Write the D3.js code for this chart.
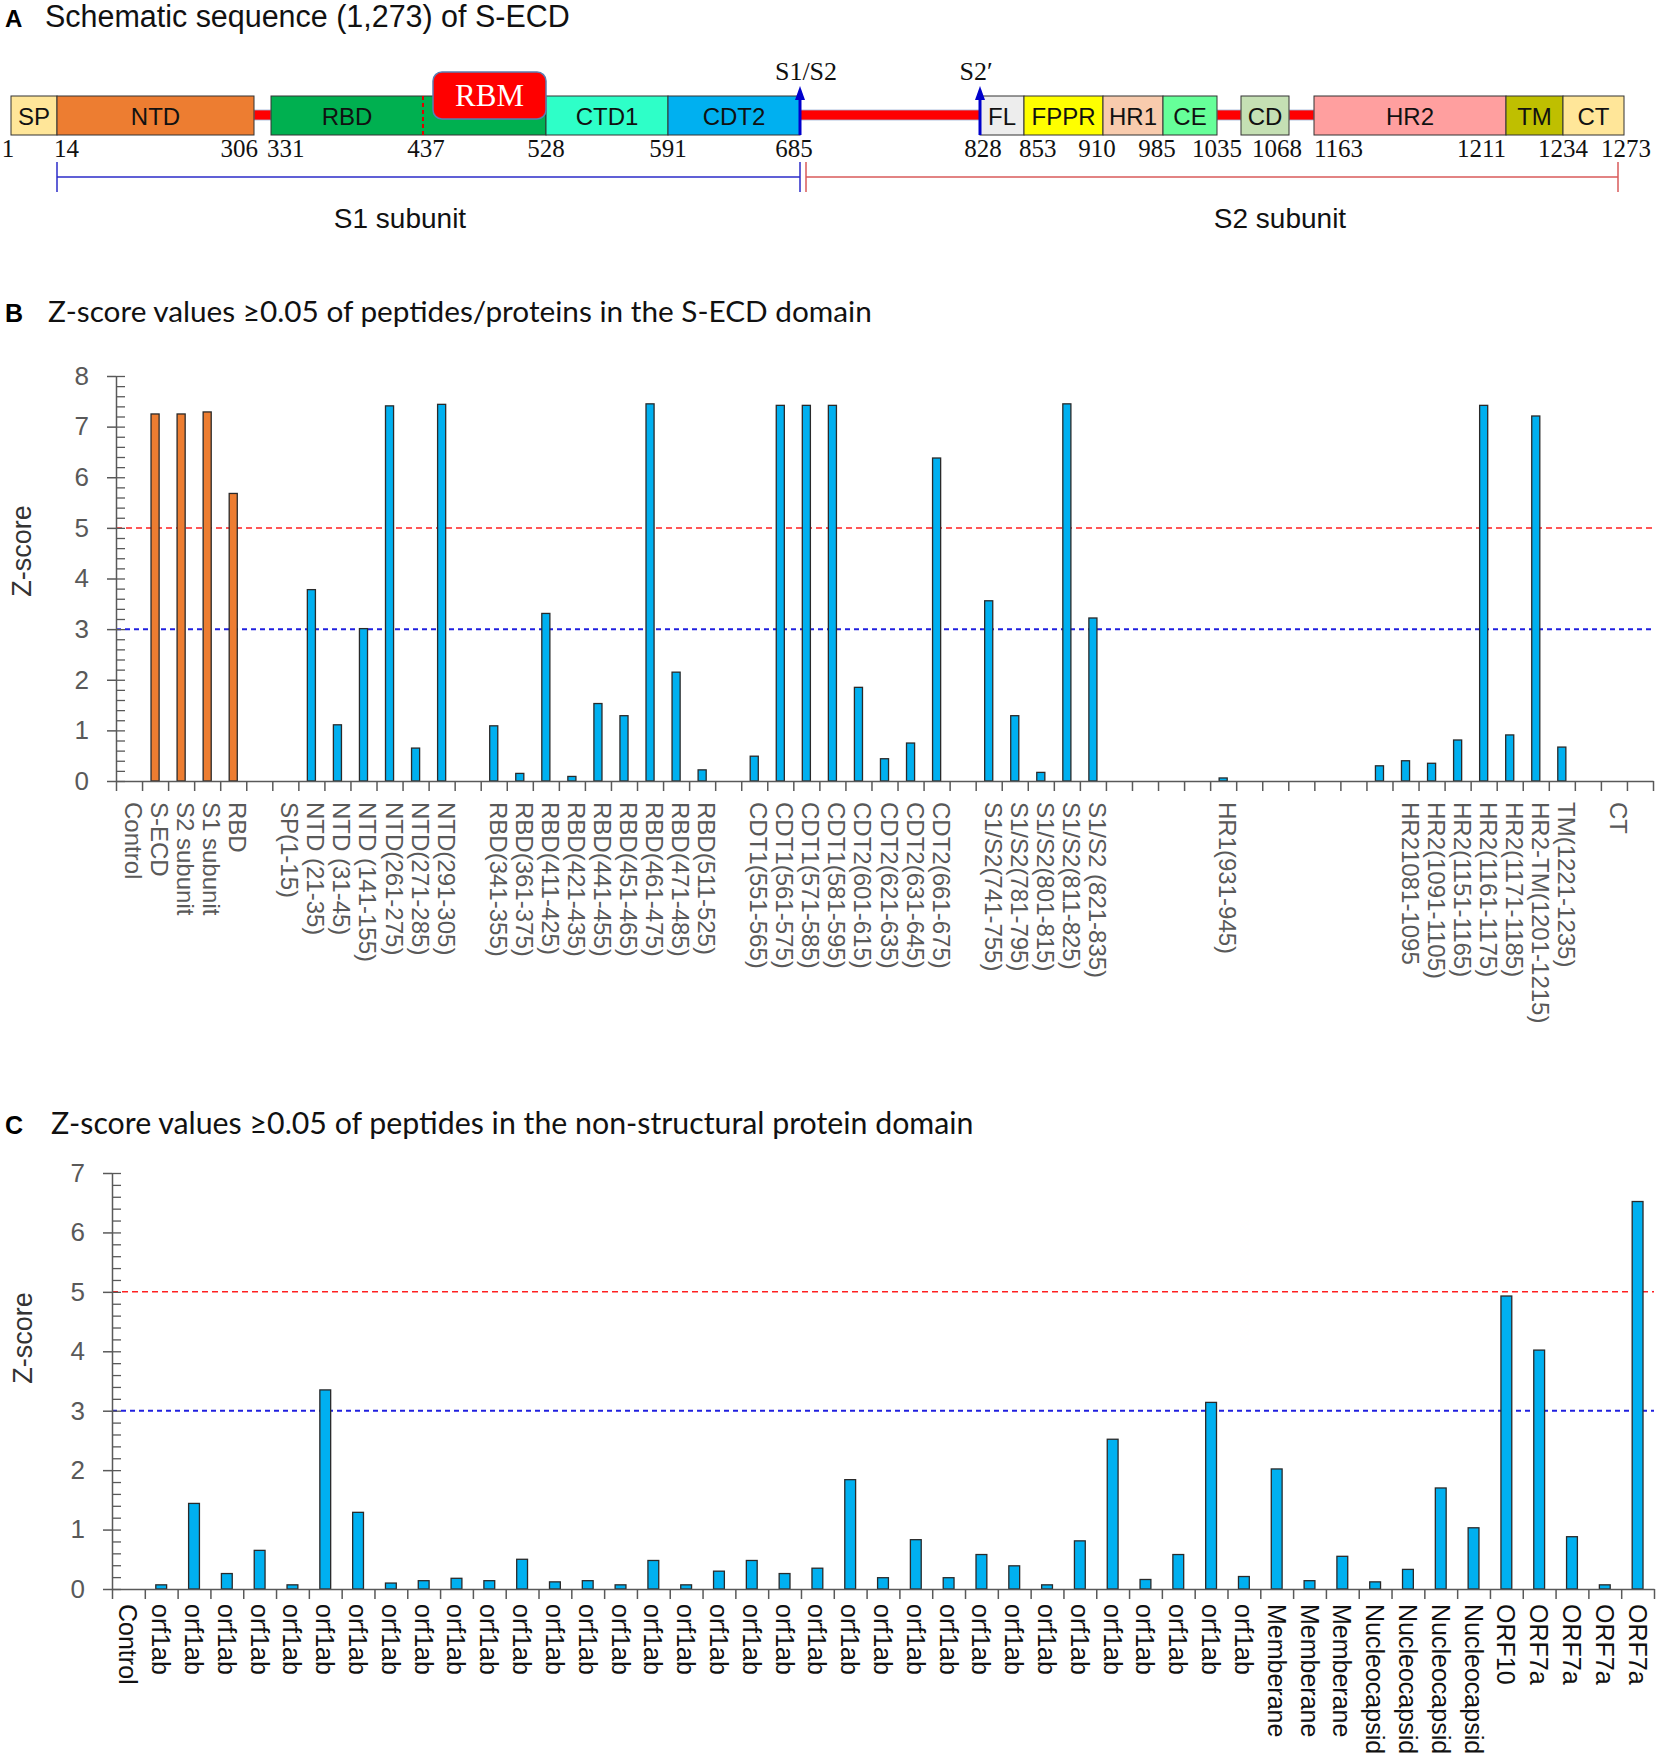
<!DOCTYPE html>
<html><head><meta charset="utf-8">
<script src="https://cdn.jsdelivr.net/npm/d3@7"></script>
<style>body{margin:0;background:#fff}</style>
</head><body>
<svg id="c" width="1658" height="1761"></svg>
<script>
// ================= DATA =================
// Panel A: schematic of the S protein (residue numbers)
const residueMarks = [1,14,306,331,437,528,591,685,828,853,910,985,1035,1043,1068,1163,1211,1234,1273];
const domainNames  = ["SP","NTD","RBD","CTD1","CDT2","FL","FPPR","HR1","CE","CD","HR2","TM","CT"];
const domainStart  = [1,14,331,528,591,828,853,910,985,1043,1163,1211,1234];
const domainEnd    = [14,306,528,591,685,853,910,985,1035,1068,1211,1234,1273];
const domainColors = ["#FFE699","#ED7D31","#00B050","#2EFFC8","#00B0F0","#EDEDED","#FFFF00","#F8CBAD","#66FF99","#C5E0B4","#FF9F9F","#BFBF00","#FFE699"];
const linkerStart  = [306,685,1035,1068];
const linkerEnd    = [331,828,1043,1163];
const rbmRange     = [437,528];
const numberLabels = [1,14,306,331,437,528,591,685,828,853,910,985,1035,1068,1163,1211,1234,1273];
const cleavageSites = [685,828];
const cleavageNames = ["S1/S2","S2\u2032"];
const subunitNames  = ["S1 subunit","S2 subunit"];

// Panel B: Z-scores, S-ECD domain
const catsB = ["Control","S-ECD","S2 subunit","S1 subunit","RBD","","SP(1-15)","NTD (21-35)","NTD (31-45)","NTD (141-155)","NTD(261-275)","NTD(271-285)","NTD(291-305)","",
"RBD(341-355)","RBD(361-375)","RBD(411-425)","RBD(421-435)","RBD(441-455)","RBD(451-465)","RBD(461-475)","RBD(471-485)","RBD(511-525)","",
"CDT1(551-565)","CDT1(561-575)","CDT1(571-585)","CDT1(581-595)","CDT2(601-615)","CDT2(621-635)","CDT2(631-645)","CDT2(661-675)","",
"S1/S2(741-755)","S1/S2(781-795)","S1/S2(801-815)","S1/S2(811-825)","S1/S2 (821-835)","","","","","HR1(931-945)","","","","","","",
"HR21081-1095","HR2(1091-1105)","HR2(1151-1165)","HR2(1161-1175)","HR2(1171-1185)","HR2-TM(1201-1215)","TM(1221-1235)","","CT",""];
const valuesB = [null,7.25,7.25,7.29,5.68,null,null,3.78,1.11,3.01,7.41,0.65,7.44,null,
1.09,0.15,3.31,0.09,1.53,1.29,7.45,2.15,0.22,null,
0.49,7.42,7.42,7.42,1.85,0.44,0.75,6.38,null,
3.56,1.29,0.17,7.45,3.22,null,null,null,null,0.06,null,null,null,null,null,
0.30,0.40,0.35,0.81,7.42,0.91,7.21,0.67,null,null,null];
const groupB = valuesB.map((v,i)=> (i>=1 && i<=4) ? "whole" : "peptide");
const yTicksB = [0,1,2,3,4,5,6,7,8];

// Panel C: Z-scores, non-structural protein domain
const catsC = ["Control"].concat(Array(34).fill("orf1ab"), Array(3).fill("Memberane"), Array(4).fill("Nucleocapsid"), ["ORF10"], Array(4).fill("ORF7a"));
const valuesC = [null,0.07,1.44,0.26,0.65,0.07,3.35,1.29,0.10,0.14,0.18,0.14,0.50,0.12,0.14,0.07,0.48,0.07,0.30,0.48,0.26,0.35,
1.84,0.19,0.83,0.19,0.58,0.39,0.07,0.81,2.52,0.16,0.58,3.14,0.21,
2.02,0.14,0.55, 0.12,0.33,1.70,1.03, 4.93, 4.02,0.88,0.07,6.52];
const yTicksC = [0,1,2,3,4,5,6,7];
const thresholds = [5,3];
const thresholdColors = ["#FF2020","#2020E0"];

// ================= DRAW =================
const svg = d3.select("#c");
const ARIAL = "'Liberation Sans', Arial, sans-serif";
const TIMES = "'Liberation Serif', 'Times New Roman', serif";

function fit(sel, w){
  sel.style("font-size","100px");
  const l = sel.node().getComputedTextLength();
  sel.style("font-size",(100*w/l)+"px");
}

// ---------- Panel A ----------
const xA = d3.scaleLinear().domain(residueMarks)
  .range([11,57,254,271,423,546,668,800,980,1024,1103,1163,1217,1241,1289,1314,1506,1563,1624]);
const boxTop = 96, boxBot = 135;
const gA = svg.append("g");

svg.append("text").attr("x",5).attr("y",27).attr("font-family",ARIAL).attr("font-weight","bold")
  .attr("font-size",24).text("A");
fit(svg.append("text").attr("x",45).attr("y",27).attr("font-family",ARIAL).attr("fill","#111")
  .text("Schematic sequence (1,273) of S-ECD"), 525);

// linkers
gA.selectAll("rect.link").data(linkerStart).join("rect").attr("class","link")
  .attr("x",(d)=>xA(d)).attr("width",(d,i)=>xA(linkerEnd[i])-xA(d))
  .attr("y",110).attr("height",10).attr("fill","#FF0000")
  .attr("stroke","#9DB3D8").attr("stroke-width",0.8);

// domain boxes
gA.selectAll("rect.dom").data(domainNames).join("rect").attr("class","dom")
  .attr("x",(d,i)=>xA(domainStart[i])).attr("width",(d,i)=>xA(domainEnd[i])-xA(domainStart[i]))
  .attr("y",boxTop).attr("height",boxBot-boxTop)
  .attr("fill",(d,i)=>domainColors[i]).attr("stroke","#333").attr("stroke-width",1);

// RBD dashed line
gA.append("line").attr("x1",xA(rbmRange[0])).attr("x2",xA(rbmRange[0]))
  .attr("y1",boxTop).attr("y2",boxBot).attr("stroke","#E00000").attr("stroke-width",2).attr("stroke-dasharray","4,3");

// domain labels
gA.selectAll("text.dl").data(domainNames).join("text").attr("class","dl")
  .attr("x",(d,i)=> (d==="RBD" ? (xA(domainStart[i])+xA(rbmRange[0]))/2 : (xA(domainStart[i])+xA(domainEnd[i]))/2))
  .attr("y",125).attr("text-anchor","middle").attr("font-family",ARIAL).attr("font-size",24)
  .attr("fill","#111").text(d=>d);

// RBM box
gA.append("rect").attr("x",xA(rbmRange[0])+10).attr("width",xA(rbmRange[1])-xA(rbmRange[0])-10)
  .attr("y",72).attr("height",47).attr("rx",9).attr("fill","#FF0000").attr("stroke","#5B7DB1").attr("stroke-width",1.5);
gA.append("text").attr("x",(xA(rbmRange[0])+10+xA(rbmRange[1]))/2).attr("y",106).attr("text-anchor","middle")
  .attr("font-family",TIMES).attr("font-size",31).attr("fill","#fff").text("RBM");

// residue numbers
const numAnchor = {1:["middle",-3],14:["start",-3],306:["end",4],331:["start",-4],437:["middle",3],528:["middle",0],
 591:["middle",0],685:["middle",-6],828:["middle",3],853:["start",-5],910:["middle",-6],985:["middle",-6],
 1035:["middle",0],1068:["middle",-12],1163:["start",0],1211:["end",0],1234:["middle",0],1273:["middle",2]};
gA.selectAll("text.num").data(numberLabels).join("text").attr("class","num")
  .attr("x",d=>xA(d)+numAnchor[d][1]).attr("y",157).attr("text-anchor",d=>numAnchor[d][0])
  .attr("font-family",TIMES).attr("font-size",25).attr("fill","#111").text(d=>d);

// cleavage arrows
cleavageSites.forEach((s,i)=>{
  const x = xA(s);
  gA.append("line").attr("x1",x).attr("x2",x).attr("y1",boxBot).attr("y2",98)
    .attr("stroke","#0000CC").attr("stroke-width",3);
  gA.append("path").attr("d",`M${x-5},${100} L${x},${86} L${x+5},${100} Z`).attr("fill","#0000CC");
  gA.append("text").attr("x",x+(i===0?6:-4)).attr("y",80).attr("text-anchor","middle")
    .attr("font-family",TIMES).attr("font-size",26).attr("fill","#111").text(cleavageNames[i]);
});

// subunit brackets
const brackets = [[xA(14),xA(685),"#2B2BC8"],[xA(685)+6,xA(1273)-6,"#D85A5A"]];
brackets.forEach((b,i)=>{
  gA.append("line").attr("x1",b[0]).attr("x2",b[1]).attr("y1",177).attr("y2",177).attr("stroke",b[2]).attr("stroke-width",1.5);
  [b[0],b[1]].forEach(x=> gA.append("line").attr("x1",x).attr("x2",x).attr("y1",162).attr("y2",192).attr("stroke",b[2]).attr("stroke-width",1.5));
  gA.append("text").attr("x",i===0?400:1280).attr("y",228).attr("text-anchor","middle")
    .attr("font-family",ARIAL).attr("font-size",28).attr("fill","#111").text(subunitNames[i]);
});

// ---------- bar panel helper ----------
function barPanel(o){
  const g = svg.append("g");
  const n = o.cats.length;
  const xL = d3.scaleLinear().domain([0,n]).range([o.x0,o.x1]);
  const xB = d3.scaleBand().domain(d3.range(n)).range([o.x0,o.x1]);
  const y = d3.scaleLinear().domain([0,o.ymax]).range([o.y0,o.ytop]);

  // title
  g.append("text").attr("x",5).attr("y",o.titleY).attr("font-family",ARIAL).attr("font-weight","bold")
    .attr("font-size",25).text(o.letter);
  fit(g.append("text").attr("x",o.titleX).attr("y",o.titleY).attr("font-family","Lato, 'Open Sans', sans-serif")
    .attr("fill","#111").text(o.title), o.titleW);

  // threshold lines
  g.selectAll("line.th").data(thresholds).join("line").attr("class","th")
    .attr("x1",o.x0).attr("x2",o.x1).attr("y1",d=>y(d)).attr("y2",d=>y(d))
    .attr("stroke",(d,i)=>thresholdColors[i]).attr("stroke-width",(d,i)=>i?2:1.5)
    .attr("stroke-dasharray",(d,i)=>i?"5,4":"6,4");

  // bars
  const bw = xB.bandwidth()*o.bf;
  g.selectAll("rect.bar").data(o.values.map((v,i)=>({v,i})).filter(d=>d.v!==null)).join("rect").attr("class","bar")
    .attr("x",d=>xB(d.i)+xB.bandwidth()/2-bw/2).attr("width",bw)
    .attr("y",d=>y(d.v)).attr("height",d=>y(0)-y(d.v))
    .attr("fill",d=>o.color(d.i)).attr("stroke","#2a2a2a").attr("stroke-width",1.3);

  // y axis: major ticks (both sides) + minor ticks (inside)
  const minor = d3.range(0,o.ymax+0.001,0.2);
  g.append("g").attr("transform",`translate(${o.x0},0)`)
    .call(d3.axisRight(y).tickValues(minor).tickSize(9).tickFormat("").tickSizeOuter(0))
    .call(a=>a.select(".domain").remove()).selectAll("line").attr("stroke","#595959").attr("stroke-width",1.3);
  const ya = g.append("g").attr("transform",`translate(${o.x0},0)`)
    .call(d3.axisLeft(y).tickValues(o.yticks).tickSize(9).tickPadding(18).tickSizeOuter(0).tickFormat(d3.format("d")));
  ya.select(".domain").attr("stroke","#595959").attr("stroke-width",1.5);
  ya.selectAll("line").attr("stroke","#595959").attr("stroke-width",1.5);
  ya.selectAll("text").attr("font-family",ARIAL).attr("font-size",26).attr("fill","#595959");

  // x axis: ticks at category boundaries
  const xa = g.append("g").attr("transform",`translate(0,${o.y0})`)
    .call(d3.axisBottom(xL).tickValues(d3.range(n+1)).tickSize(10).tickSizeOuter(0).tickFormat(""));
  xa.select(".domain").attr("stroke","#595959").attr("stroke-width",1.5);
  xa.selectAll("line").attr("stroke","#595959").attr("stroke-width",1.5);

  // category labels, rotated
  g.selectAll("text.cl").data(o.cats.map((c,i)=>({c,i})).filter(d=>d.c!=="")).join("text").attr("class","cl")
    .attr("transform",d=>`translate(${xB(d.i)+xB.bandwidth()/2+o.labDx},${o.labY}) rotate(90)`)
    .attr("font-family",ARIAL).attr("font-size",o.labSize).attr("fill",o.labColor).text(d=>d.c);

  // y title
  g.append("text").attr("transform",`translate(${o.ztX},${o.ztY}) rotate(-90)`).attr("text-anchor","middle")
    .attr("font-family",ARIAL).attr("font-size",27).attr("fill","#333").text("Z-score");
}

barPanel({letter:"B", title:"Z-score values \u22650.05 of peptides/proteins in the S-ECD domain",
  titleX:48, titleY:322, titleW:824,
  cats:catsB, values:valuesB, color:i=> groupB[i]==="whole" ? "#ED7D31" : "#00B0F0",
  x0:116, x1:1653, y0:781, ytop:376, ymax:8, yticks:yTicksB, bf:0.31,
  labDx:-4, labY:802, labSize:24, labColor:"#595959", ztX:31, ztY:551});

barPanel({letter:"C", title:"Z-score values \u22650.05 of peptides in the non-structural protein domain",
  titleX:51, titleY:1134, titleW:923,
  cats:catsC, values:valuesC, color:()=>"#00B0F0",
  x0:112, x1:1654, y0:1589, ytop:1173, ymax:7, yticks:yTicksC, bf:0.33,
  labDx:-9, labY:1604, labSize:25, labColor:"#111", ztX:32, ztY:1338});
</script>
</body></html>
